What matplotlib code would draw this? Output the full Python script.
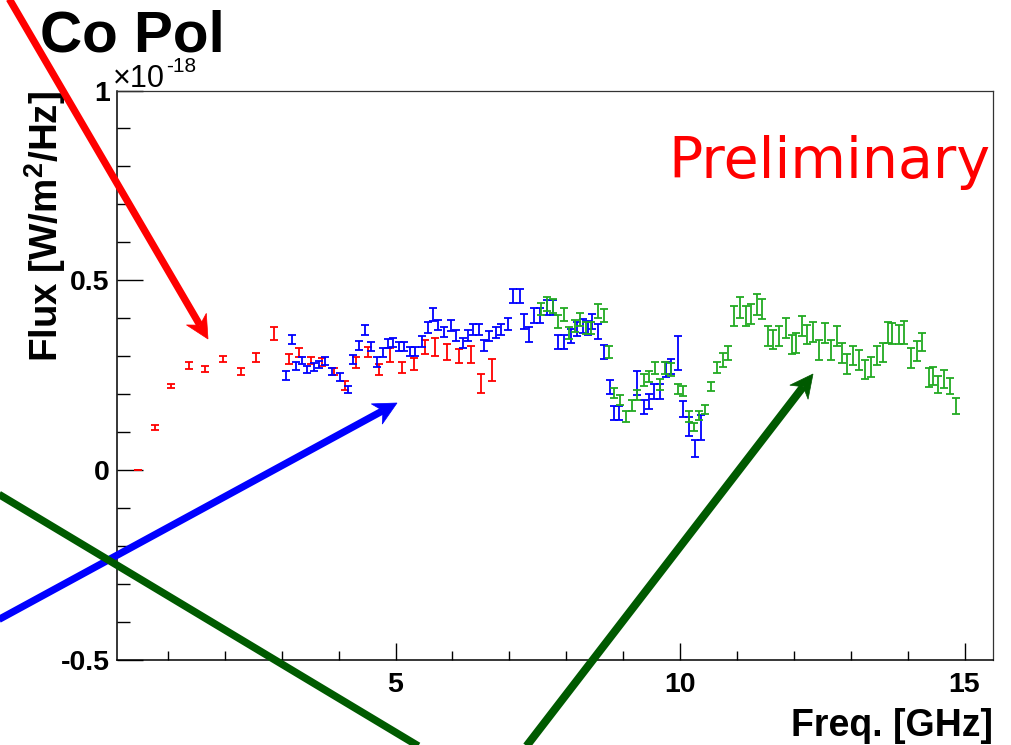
import matplotlib
matplotlib.use('Agg')
import matplotlib.pyplot as plt
from matplotlib.lines import Line2D
from matplotlib.patches import Polygon
import numpy as np

plt.rcParams['font.family'] = ['Liberation Sans', 'DejaVu Sans']
plt.rcParams['mathtext.fontset'] = 'custom'
plt.rcParams['mathtext.rm'] = 'Liberation Sans:bold'
plt.rcParams['mathtext.bf'] = 'Liberation Sans:bold'

# flux measurements, three receiver bands [GHz, 1e-18 W/m2/Hz]
red_x = [0.47, 0.78, 1.06, 1.37, 1.65, 1.96, 2.28, 2.55, 2.86, 3.12, 3.31, 3.51, 3.70, 3.92,
         4.11, 4.31, 4.52, 4.71, 4.90, 5.11, 5.32, 5.52, 5.69, 5.91, 6.12, 6.32, 6.50, 6.70]
red_y = [0.000, 0.112, 0.222, 0.276, 0.266, 0.293, 0.260, 0.297, 0.359, 0.293, 0.311, 0.289, 0.285, 0.260,
         0.222, 0.284, 0.311, 0.265, 0.304, 0.271, 0.280, 0.325, 0.325, 0.310, 0.300, 0.304, 0.229, 0.265]
red_err = [0.000, 0.007, 0.005, 0.010, 0.008, 0.007, 0.009, 0.012, 0.017, 0.014, 0.012, 0.010, 0.011, 0.010,
           0.012, 0.015, 0.013, 0.015, 0.018, 0.014, 0.016, 0.019, 0.023, 0.021, 0.019, 0.022, 0.025, 0.029]

blue_x = [3.07, 3.18, 3.25, 3.35, 3.45, 3.56, 3.66, 3.76, 3.88, 4.02,
          4.16, 4.26, 4.36, 4.47, 4.57, 4.68, 4.78, 4.86, 4.95, 5.06,
          5.15, 5.26, 5.34, 5.47, 5.57, 5.65, 5.75, 5.85, 5.97, 6.06,
          6.18, 6.27, 6.36, 6.46, 6.55, 6.65, 6.76, 6.86, 6.97, 7.07,
          7.18, 7.25, 7.35, 7.44, 7.54, 7.66, 7.76, 7.86, 7.96, 8.08,
          8.19, 8.29, 8.38, 8.46, 8.56, 8.66, 8.77, 8.84, 8.93, 9.25,
          9.36, 9.46, 9.55, 9.65, 9.75, 9.84, 9.96, 10.06, 10.16, 10.27,
          10.37]
blue_y = [0.249, 0.344, 0.275, 0.289, 0.265, 0.272, 0.278, 0.287, 0.260, 0.245,
          0.213, 0.291, 0.329, 0.369, 0.325, 0.285, 0.311, 0.333, 0.337, 0.325,
          0.325, 0.313, 0.313, 0.339, 0.375, 0.410, 0.382, 0.364, 0.381, 0.355,
          0.335, 0.354, 0.370, 0.370, 0.328, 0.353, 0.363, 0.370, 0.384, 0.458,
          0.458, 0.392, 0.357, 0.407, 0.407, 0.428, 0.428, 0.337, 0.337, 0.353,
          0.372, 0.379, 0.375, 0.392, 0.366, 0.311, 0.219, 0.150, 0.150, 0.229,
          0.166, 0.181, 0.207, 0.207, 0.265, 0.273, 0.309, 0.161, 0.115, 0.057,
          0.112]
blue_err = [0.011, 0.012, 0.010, 0.010, 0.010, 0.010, 0.010, 0.010, 0.010, 0.010,
            0.010, 0.012, 0.012, 0.014, 0.012, 0.012, 0.012, 0.012, 0.012, 0.012,
            0.012, 0.012, 0.012, 0.014, 0.014, 0.016, 0.014, 0.014, 0.014, 0.014,
            0.014, 0.014, 0.014, 0.014, 0.014, 0.014, 0.015, 0.015, 0.016, 0.018,
            0.018, 0.020, 0.019, 0.019, 0.019, 0.019, 0.019, 0.019, 0.019, 0.019,
            0.019, 0.019, 0.019, 0.020, 0.020, 0.019, 0.019, 0.018, 0.018, 0.032,
            0.019, 0.019, 0.020, 0.020, 0.020, 0.020, 0.045, 0.022, 0.024, 0.022,
            0.032]

green_x = [7.56, 7.67, 7.76, 7.86, 7.96, 8.05, 8.15, 8.24, 8.34, 8.43,
           8.56, 8.67, 8.75, 8.84, 8.95, 9.05, 9.15, 9.25, 9.36, 9.46,
           9.56, 9.65, 9.74, 9.84, 9.96, 10.06, 10.15, 10.25, 10.34, 10.44,
           10.54, 10.65, 10.75, 10.85, 10.95, 11.06, 11.16, 11.24, 11.35, 11.44,
           11.54, 11.64, 11.74, 11.86, 11.96, 12.03, 12.14, 12.24, 12.34, 12.45,
           12.55, 12.65, 12.75, 12.84, 12.94, 13.04, 13.14, 13.25, 13.35, 13.46,
           13.56, 13.65, 13.73, 13.85, 13.94, 14.06, 14.16, 14.25, 14.37, 14.45,
           14.54, 14.64, 14.74, 14.85]
green_y = [0.425, 0.437, 0.433, 0.392, 0.410, 0.362, 0.379, 0.397, 0.375, 0.375,
           0.419, 0.407, 0.311, 0.203, 0.185, 0.141, 0.170, 0.198, 0.238, 0.247,
           0.269, 0.225, 0.269, 0.265, 0.214, 0.209, 0.141, 0.113, 0.144, 0.159,
           0.221, 0.271, 0.290, 0.309, 0.406, 0.428, 0.406, 0.412, 0.437, 0.425,
           0.354, 0.344, 0.354, 0.375, 0.331, 0.335, 0.379, 0.357, 0.363, 0.317,
           0.362, 0.316, 0.353, 0.309, 0.280, 0.302, 0.291, 0.265, 0.272, 0.302,
           0.310, 0.362, 0.359, 0.357, 0.362, 0.296, 0.313, 0.337, 0.244, 0.249,
           0.225, 0.240, 0.222, 0.169]
green_err = [0.016, 0.018, 0.018, 0.017, 0.016, 0.016, 0.016, 0.017, 0.016, 0.016,
             0.018, 0.018, 0.016, 0.013, 0.013, 0.014, 0.014, 0.014, 0.015, 0.015,
             0.015, 0.015, 0.016, 0.016, 0.014, 0.014, 0.014, 0.010, 0.012, 0.012,
             0.012, 0.015, 0.018, 0.019, 0.026, 0.028, 0.026, 0.026, 0.027, 0.026,
             0.026, 0.026, 0.026, 0.026, 0.025, 0.026, 0.026, 0.026, 0.026, 0.026,
             0.026, 0.026, 0.026, 0.026, 0.026, 0.026, 0.026, 0.026, 0.026, 0.026,
             0.026, 0.028, 0.028, 0.026, 0.030, 0.026, 0.026, 0.024, 0.024, 0.024,
             0.022, 0.024, 0.022, 0.020]

W, H = 1011, 745
fig = plt.figure(figsize=(W / 100, H / 100), dpi=100)
ax = fig.add_axes([116.7 / W, 1 - 660 / H, (993 - 116.7) / W, (660 - 90.5) / H])


def fp(x, y):
    # pixel position (origin top-left) -> figure fraction
    return x / W, 1 - y / H


for xs, ys, es, c in [(red_x, red_y, red_err, '#ff0000'),
                      (blue_x, blue_y, blue_err, '#0000ff'),
                      (green_x, green_y, green_err, '#22aa22')]:
    ax.errorbar(xs, ys, yerr=es, fmt='none', ecolor=c, elinewidth=1.3,
                capsize=2.6, capthick=1.3)

ax.set_xlim(0.1, 15.5)
ax.set_ylim(-0.5, 1.0)
ax.set_xticks([5, 10, 15])
ax.set_xticklabels(['5', '10', '15'])
ax.set_xticks(np.arange(1, 16), minor=True)
ax.set_yticks([-0.5, 0, 0.5, 1])
ax.set_yticklabels(['-0.5', '0', '0.5', '1'])
ax.set_yticks(np.arange(-0.4, 1.0, 0.1), minor=True)
for lab in ax.get_xticklabels() + ax.get_yticklabels():
    lab.set_fontweight('bold')
    lab.set_fontsize(20.5)
ax.tick_params(axis='x', which='major', direction='in', length=12.5, width=1.0, pad=9)
ax.tick_params(axis='x', which='minor', direction='in', length=6.2, width=1.0)
ax.tick_params(axis='y', which='major', direction='in', length=19, width=1.0, pad=5)
ax.tick_params(axis='y', which='minor', direction='in', length=9.4, width=1.0)
for s in ['left', 'bottom']:
    ax.spines[s].set_linewidth(1.1)
for s in ['top', 'right']:
    ax.spines[s].set_linewidth(0.9)
    ax.spines[s].set_color('#333333')

# texts
fig.text(*fp(40, 52), 'Co Pol', fontsize=42, fontweight='bold', ha='left', va='baseline')
fig.text(*fp(113, 87), '\u00d710', fontsize=22, ha='left', va='baseline')
fig.text(*fp(166, 72), '-18', fontsize=15, ha='left', va='baseline')
fig.text(*fp(58, 91), 'Flux [W/m$^{2}$/Hz]', fontsize=27.7, fontweight='bold',
         rotation=90, rotation_mode='anchor', ha='right', va='baseline')
fig.text(*fp(993, 736), 'Freq. [GHz]', fontsize=27, fontweight='bold', ha='right', va='baseline')
fig.text(*fp(668, 178), 'Preliminary', fontsize=41, color='#ff0000',
         family='DejaVu Sans', ha='left', va='baseline')


def arrow(x0, y0, x1, y1, color, lw, head=True):
    d = np.array([x1 - x0, y1 - y0], dtype=float)
    u = d / np.hypot(*d)
    n = np.array([-u[1], u[0]])
    tip = np.array([x1, y1], dtype=float)
    end = tip
    if head:
        hl, hw, notch = 23, 11.5, 7
        base = tip - u * hl
        end = tip - u * (hl - notch)
        pts = [tip, base + n * hw, end, base - n * hw]
        fig.add_artist(Polygon([fp(*p) for p in pts], closed=True, transform=fig.transFigure,
                               facecolor=color, edgecolor=color, lw=0.5, zorder=20))
    (a, b), (c, e) = fp(x0, y0), fp(*end)
    fig.add_artist(Line2D([a, c], [b, e], transform=fig.transFigure, color=color,
                          lw=lw, solid_capstyle='butt', zorder=19))


arrow(-10, -34, 208, 339, '#ff0000', 5.2)
arrow(-26, 633, 397, 403, '#0000ff', 5.2)
arrow(-20, 483, 440, 759, '#005a00', 5.4, head=False)
arrow(515, 761, 813, 374, '#005a00', 5.8)

fig.savefig('out.png', dpi=100)
